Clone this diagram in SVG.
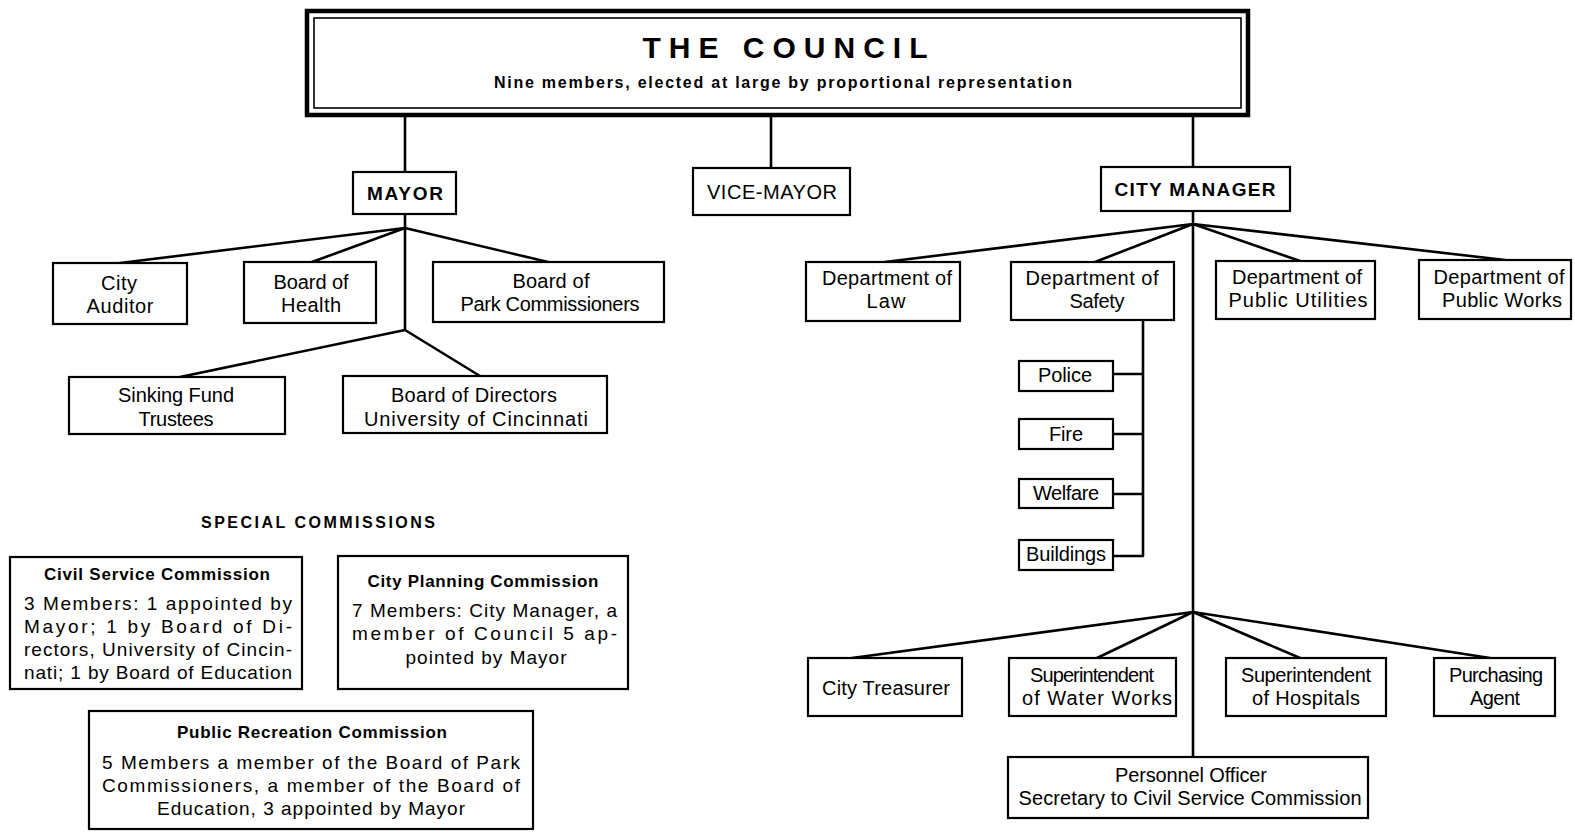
<svg xmlns="http://www.w3.org/2000/svg" width="1575" height="834" viewBox="0 0 1575 834">
<style>
.box{fill:#fff;stroke:#000;stroke-width:2.2}
.ln{stroke:#000;stroke-width:2.6;fill:none;stroke-linecap:round}
.t{font-family:"Liberation Sans",Arial,sans-serif;font-size:20px;text-anchor:middle;fill:#000}
.b{font-weight:bold}
.s{font-size:19px}
.h{font-size:19px}
.j{font-family:"Liberation Sans",Arial,sans-serif;font-size:19px;fill:#000}
</style>
<rect width="1575" height="834" fill="#fff"/>
<g id="connectors">
<path class="ln" d="M405,117V172M771,117V168M1193,117V167"/>
<path class="ln" d="M405,214V330M405,228L120,263M405,228L312,262M405,228L548,262M405,330L180,377M405,330L480,376"/>
<path class="ln" d="M1193,211V757M1193,224L885,262M1193,224L1095,262M1193,224L1300,261M1193,224L1505,260"/>
<path class="ln" d="M1143,320V556M1113,374H1143M1113,434H1143M1113,494H1143M1113,556H1143"/>
<path class="ln" d="M1193,612L852,658M1193,612L1097,658M1193,612L1300,658M1193,612L1490,658"/>
</g>
<g id="council">
<rect x="307" y="11" width="941" height="104" fill="#fff" stroke="#000" stroke-width="4.5"/>
<rect x="314" y="18" width="927" height="90" fill="none" stroke="#000" stroke-width="1.6"/>
<text class="t b" x="785" y="58" style="font-size:30px" textLength="285">THE COUNCIL</text>
<text class="t b" x="783" y="88" style="font-size:16px" textLength="578">Nine members, elected at large by proportional representation</text>
</g>
<g id="mayor">
<rect class="box" x="353" y="172" width="103" height="42"/>
<text class="t b h" x="405" y="200" textLength="76">MAYOR</text>
</g>
<g id="vice-mayor">
<rect class="box" x="693" y="168" width="157" height="47"/>
<text class="t" x="772" y="199" textLength="130">VICE-MAYOR</text>
</g>
<g id="city-manager">
<rect class="box" x="1101" y="167" width="189" height="44"/>
<text class="t b h" x="1195" y="196" textLength="161">CITY MANAGER</text>
</g>
<g id="city-auditor">
<rect class="box" x="53" y="263" width="134" height="61"/>
<text class="t" x="119" y="290" textLength="36">City</text>
<text class="t" x="120" y="313" textLength="67">Auditor</text>
</g>
<g id="board-of-health">
<rect class="box" x="244" y="262" width="132" height="61"/>
<text class="t" x="311" y="289" textLength="75">Board of</text>
<text class="t" x="311" y="312" textLength="60">Health</text>
</g>
<g id="park-commissioners">
<rect class="box" x="433" y="262" width="231" height="60"/>
<text class="t" x="551" y="288" textLength="77">Board of</text>
<text class="t" x="550" y="311" textLength="179">Park Commissioners</text>
</g>
<g id="sinking-fund">
<rect class="box" x="69" y="377" width="216" height="57"/>
<text class="t" x="176" y="402" textLength="116">Sinking Fund</text>
<text class="t" x="176" y="426" textLength="75">Trustees</text>
</g>
<g id="board-of-directors">
<rect class="box" x="343" y="376" width="264" height="57"/>
<text class="t" x="474" y="402" textLength="166">Board of Directors</text>
<text class="t" x="476" y="426" textLength="224">University of Cincinnati</text>
</g>
<g id="special-commissions-title">
<text class="t b" x="318" y="528" style="font-size:16px" textLength="234">SPECIAL COMMISSIONS</text>
</g>
<g id="civil-service">
<rect class="box" x="10" y="557" width="292" height="132"/>
<text class="t b" x="157" y="580" style="font-size:17px" textLength="226">Civil Service Commission</text>
<text class="j" x="24" y="610" textLength="268">3 Members: 1 appointed by</text>
<text class="j" x="24" y="633" textLength="268">Mayor; 1 by Board of Di-</text>
<text class="j" x="24" y="656" textLength="268">rectors, University of Cincin-</text>
<text class="j" x="24" y="679" textLength="268">nati; 1 by Board of Education</text>
</g>
<g id="city-planning">
<rect class="box" x="338" y="556" width="290" height="133"/>
<text class="t b" x="483" y="587" style="font-size:17px" textLength="231">City Planning Commission</text>
<text class="j" x="352" y="617" textLength="265">7 Members: City Manager, a</text>
<text class="j" x="352" y="640" textLength="265">member of Council 5 ap-</text>
<text class="t s" x="486" y="664" textLength="161">pointed by Mayor</text>
</g>
<g id="public-recreation">
<rect class="box" x="89" y="711" width="444" height="118"/>
<text class="t b" x="312" y="738" style="font-size:17px" textLength="270">Public Recreation Commission</text>
<text class="j" x="102" y="769" textLength="418">5 Members a member of the Board of Park</text>
<text class="j" x="102" y="792" textLength="418">Commissioners, a member of the Board of</text>
<text class="t s" x="311" y="815" textLength="308">Education, 3 appointed by Mayor</text>
</g>
<g id="dept-law">
<rect class="box" x="806" y="262" width="154" height="59"/>
<text class="t" x="887" y="285" textLength="130">Department of</text>
<text class="t" x="886" y="308" textLength="39">Law</text>
</g>
<g id="dept-safety">
<rect class="box" x="1011" y="262" width="163" height="58"/>
<text class="t" x="1092" y="285" textLength="133">Department of</text>
<text class="t" x="1097" y="308" textLength="55">Safety</text>
</g>
<g id="dept-utilities">
<rect class="box" x="1216" y="261" width="159" height="58"/>
<text class="t" x="1297" y="284" textLength="130">Department of</text>
<text class="t" x="1298" y="307" textLength="139">Public Utilities</text>
</g>
<g id="dept-works">
<rect class="box" x="1419" y="260" width="152" height="59"/>
<text class="t" x="1499" y="284" textLength="131">Department of</text>
<text class="t" x="1502" y="307" textLength="120">Public Works</text>
</g>
<g id="police">
<rect class="box" x="1019" y="361" width="94" height="30"/>
<text class="t" x="1065" y="382" textLength="54">Police</text>
</g>
<g id="fire">
<rect class="box" x="1019" y="419" width="94" height="30"/>
<text class="t" x="1066" y="441" textLength="34">Fire</text>
</g>
<g id="welfare">
<rect class="box" x="1019" y="479" width="94" height="29"/>
<text class="t" x="1066" y="500" textLength="66">Welfare</text>
</g>
<g id="buildings">
<rect class="box" x="1019" y="540" width="94" height="30"/>
<text class="t" x="1066" y="561" textLength="80">Buildings</text>
</g>
<g id="city-treasurer">
<rect class="box" x="808" y="658" width="154" height="58"/>
<text class="t" x="886" y="695" textLength="128">City Treasurer</text>
</g>
<g id="water-works">
<rect class="box" x="1009" y="658" width="167" height="58"/>
<text class="t" x="1092" y="682" textLength="124">Superintendent</text>
<text class="t" x="1097" y="705" textLength="150">of Water Works</text>
</g>
<g id="hospitals">
<rect class="box" x="1226" y="658" width="160" height="58"/>
<text class="t" x="1306" y="682" textLength="130">Superintendent</text>
<text class="t" x="1306" y="705" textLength="108">of Hospitals</text>
</g>
<g id="purchasing">
<rect class="box" x="1434" y="658" width="121" height="58"/>
<text class="t" x="1496" y="682" textLength="94">Purchasing</text>
<text class="t" x="1495" y="705" textLength="50">Agent</text>
</g>
<g id="personnel">
<rect class="box" x="1008" y="757" width="360" height="61"/>
<text class="t" x="1191" y="782" textLength="152">Personnel Officer</text>
<text class="t" x="1190" y="805" textLength="343">Secretary to Civil Service Commission</text>
</g>
</svg>
